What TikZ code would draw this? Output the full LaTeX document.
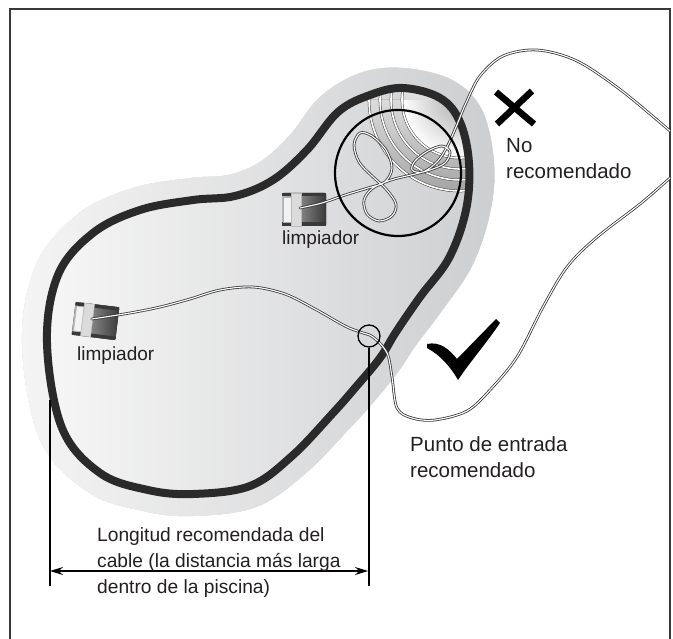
\documentclass[tikz,border=0pt]{standalone}
\usepackage{fontspec}
\setmainfont{Liberation Sans}
\usetikzlibrary{arrows.meta,calc}

\definecolor{ink}{HTML}{231F20}
\definecolor{rim}{HTML}{2A2A2A}
\definecolor{frameline}{HTML}{3A3A3A}
\definecolor{haloL}{HTML}{F4F4F4}
\definecolor{haloR}{HTML}{CDCED0}
\definecolor{poolL}{HTML}{F6F6F6}
\definecolor{poolR}{HTML}{D0D1D3}

% centre line of the pool rim
\newcommand{\poolrim}{plot[smooth cycle, tension=0.6] coordinates {
  (47,343) (58,275) (93,233) (140,210) (193,200) (235,196) (273,180)
  (307,150) (338,112) (370,95) (403,88) (440,98) (460,122) (469,163)
  (466,210) (449,258) (420,297) (396,332) (380,358) (355,388) (333,413)
  (292,456) (250,486) (193,494) (148,490) (100,473) (62,428)}}

% outer edge of the grey deck around the pool
\newcommand{\pooldeck}{plot[smooth cycle, tension=0.6] coordinates {
  (22,343) (36,265) (78,214) (133,188) (191,178) (228,175) (260,162)
  (290,135) (320,97) (360,73) (403,68) (452,80) (482,110) (494,163)
  (490,213) (472,266) (441,312) (416,345) (398,372) (372,404) (350,428)
  (305,474) (256,507) (193,516) (143,511) (88,492) (40,440)}}

\tikzset{
  cable/.style={draw=gray!45!black, double=white, double distance=1.1pt,
    line width=0.8pt, line cap=round, line join=round},
  lbl/.style={font=\fontsize{20.5}{24}\selectfont, text=ink, inner sep=0pt},
  smalllbl/.style={font=\fontsize{19}{23}\selectfont, text=ink, inner sep=0pt},
  dimlbl/.style={font=\fontsize{19.2}{26}\selectfont, text=ink, inner sep=0pt},
  dimline/.style={draw=black, line width=2pt},
  cleaner/.pic={
    \fill[left color=gray!55, right color=gray!45!black, rounded corners=1.5pt]
      (-22,-16.5) rectangle (22,16.5);
    \fill[gray!45!black] (-22,-16.5) rectangle (22,-13);
    \fill[gray!45!black] (-22,13) rectangle (22,16.5);
    \filldraw[fill=gray!10, draw=gray!60, line width=0.6pt]
      (-20.5,-12.5) rectangle (-13,12.5);
    \filldraw[fill=gray!28, draw=gray!55, line width=0.5pt]
      (-13,-16.5) rectangle (-3,16.5);
    \coordinate (-cable) at (-4,-1.5);
  }
}

\begin{document}
\begin{tikzpicture}[x=1pt,y=-1pt]
\useasboundingbox (0,0) rectangle (673,639);

% frame, open at the bottom
\draw[frameline, line width=2pt] (10,639) -- (10,9) -- (670,9) -- (670,639);

% deck around the pool, softened at its edge
\begin{scope}[transparency group, opacity=0.35]
  \fill[left color=white, right color=haloR, draw=none, line width=6pt]
    \pooldeck;
\end{scope}
\shade[left color=haloL, right color=haloR] \pooldeck;

% water
\shade[left color=poolL, right color=poolR] \poolrim;

% steps of the deep end
\begin{scope}
  \clip \poolrim;
  \fill[inner color=gray!65, outer color=white] (460,100) circle (58);
  \begin{scope}
    \clip (460,100) circle (92);
    \fill[even odd rule, top color=white, bottom color=gray!75]
      (370,100) rectangle (470,200) (460,100) circle (58);
  \end{scope}
  \foreach \r in {58,69,80,91}
    \draw[draw=gray!55!black, double=white, double distance=1.6pt,
      line width=0.5pt] (460,100) circle (\r);
\end{scope}

% pool rim
\draw[rim, line width=8pt] \poolrim;

% cleaners
\pic (cl2) at (304,209.5) {cleaner};
\pic[rotate=-7] (cl1) at (95.5,321) {cleaner};

% cable of the upper cleaner, tangled in the deep end
\draw[cable] plot[smooth, tension=0.55] coordinates {
  (cl2-cable) (322,203) (345,195) (368,188) (385,182) (392,168)
  (386,150) (372,136) (360,133) (354,145) (359,162) (372,176)
  (386,189) (396,204) (392,216) (379,221) (367,214) (364,200)
  (373,188) (391,180) (411,175) (430,170) (445,163) (450,152)
  (442,146) (428,151) (415,161) (412,170) (423,172) (437,162)
  (447,147) (456,127) (466,103) (480,76) (503,56) (537,50)
  (577,61) (622,91) (670,131)};

% cable of the lower cleaner, through the entry point
\draw[cable] plot[smooth, tension=0.55] coordinates {
  (cl1-cable) (130,313) (160,307) (190,299) (220,290) (253,287)
  (285,294) (315,309) (345,326) (360,332) (373,337) (387,353)
  (392,377) (397,408) (412,418) (435,420) (467,411) (490,390)
  (517,357) (543,307) (567,267) (596,238) (640,204) (670,178)};

% danger zone
\draw[black, line width=2.2pt] (398,173) circle (63);

% recommended entry point
\node[circle, draw=black, line width=1.3pt, minimum size=22pt, inner sep=0pt]
  (entry) at (369,336) {};

% marks
\draw[black, line width=6.5pt] (496,92) -- (534,124) (532,91) -- (497,124);
\fill[black] (427,344) .. controls (440,341) and (450,350) .. (457,359)
  -- (496,319) -- (500,323) .. controls (485,345) and (470,362) .. (458,380)
  .. controls (450,366) and (440,355) .. (427,348) -- cycle;

% labels
\node[lbl, anchor=base west] (no1) at (506,153) {No};
\node[lbl, anchor=base west] (no2) at (506,179) {recomendado};
\node[lbl, anchor=base west] (pe1) at (410,451) {Punto de entrada};
\node[lbl, anchor=base west] (pe2) at (410,477) {recomendado};
\node[smalllbl, anchor=base west] (lp1) at (77,361) {limpiador};
\node[smalllbl, anchor=base west] (lp2) at (282,245) {limpiador};

% length of cable
\coordinate (dimL) at (50,400);
\coordinate (dimLb) at (50,586);
\coordinate (dimRb) at (368,586);
\draw[dimline] (dimL) -- (dimLb);
\draw[dimline] (entry.south) -- (entry.south |- dimRb);
\draw[black, line width=1.3pt, {Stealth[length=13pt,width=8pt]}-{Stealth[length=13pt,width=8pt]}]
  (50,571) -- (368,571);
\node[dimlbl, anchor=base west] (d1) at (97,541) {Longitud recomendada del};
\node[dimlbl, anchor=base west] (d2) at (97,567) {cable (la distancia más larga};
\node[dimlbl, anchor=base west] (d3) at (97,593) {dentro de la piscina)};
\end{tikzpicture}
\end{document}
